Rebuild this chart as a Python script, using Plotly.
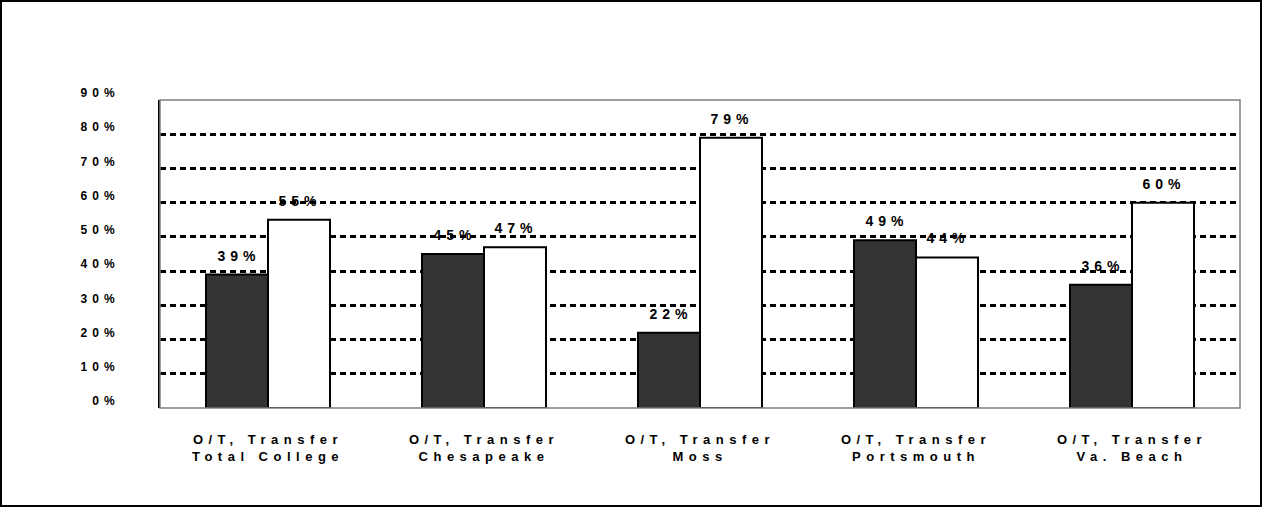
import plotly.graph_objects as go

categories = [
    "O/T, Transfer<br>Total College",
    "O/T, Transfer<br>Chesapeake",
    "O/T, Transfer<br>Moss",
    "O/T, Transfer<br>Portsmouth",
    "O/T, Transfer<br>Va. Beach",
]
ot_values = [39, 45, 22, 49, 36]
transfer_values = [55, 47, 79, 44, 60]
y_ticks = [0, 10, 20, 30, 40, 50, 60, 70, 80, 90]
y_tick_labels = ["0%", "10%", "20%", "30%", "40%", "50%", "60%", "70%", "80%", "90%"]

W, H = 1262, 507
ML, MR, MT, MB = 160, 22, 100, 99
PW, PH = W - ML - MR, H - MT - MB

font_family = "Liberation Sans, Arial, sans-serif"

fig = go.Figure()
fig.add_trace(go.Bar(
    x=categories, y=ot_values, name="O/T",
    marker=dict(color="#333333", line=dict(color="black", width=2)),
))
fig.add_trace(go.Bar(
    x=categories, y=transfer_values, name="Transfer",
    marker=dict(color="#ffffff", line=dict(color="black", width=2)),
))

bar_px = PW / len(categories) * (1 - 0.426) / 2
for vals, sign in ((ot_values, -1), (transfer_values, 1)):
    for c, v in zip(categories, vals):
        fig.add_annotation(
            x=c, y=v, text=f"{v}%", showarrow=False,
            xref="x", yref="y", yanchor="bottom",
            xshift=sign * bar_px / 2 + 2, yshift=9,
            font=dict(family=font_family, size=14, color="black", weight="bold"),
        )

# plot area border (grey)
fig.add_shape(type="rect", xref="paper", yref="paper", x0=0, x1=1, y0=0, y1=1,
              line=dict(color="#808080", width=1.5), layer="above")
# outer frame
fig.add_shape(type="rect", xref="paper", yref="paper",
              x0=-ML / PW + 1 / PW, x1=(W - ML - 1) / PW,
              y0=-MB / PH + 1 / PH, y1=(H - MB - 1) / PH,
              line=dict(color="black", width=2), layer="above")

fig.update_layout(
    width=W, height=H,
    margin=dict(l=ML, r=MR, t=MT, b=MB),
    paper_bgcolor="white", plot_bgcolor="white",
    barmode="group", bargap=0.426, bargroupgap=0,
    showlegend=False,
    font=dict(family=font_family, color="black"),
)
fig.update_xaxes(
    showgrid=False, showline=False, ticks="",
    tickfont=dict(family=font_family, size=13, weight="bold"),
    ticklabelstandoff=22,
)
fig.update_yaxes(
    range=[0, 90], tickmode="array", tickvals=y_ticks, ticktext=y_tick_labels,
    showgrid=True, gridcolor="black", gridwidth=3, griddash="6px,4px",
    zeroline=False, showline=True, linecolor="black", linewidth=2,
    ticks="", tickfont=dict(family=font_family, size=12, weight="bold"),
    ticklabelstandoff=36, ticklabelshift=-7,
)

post = """
document.body.style.margin='0';
document.documentElement.style.margin='0';
document.querySelectorAll('.ytick text').forEach(t=>{t.style.letterSpacing='5px';});
document.querySelectorAll('.xtick text').forEach(t=>{t.style.letterSpacing='5.5px';});
document.querySelectorAll('.annotation-text').forEach(t=>{t.style.letterSpacing='5px';});
"""
fig.write_html("out.html", post_script=post,
               config={"responsive": False, "displayModeBar": False})
